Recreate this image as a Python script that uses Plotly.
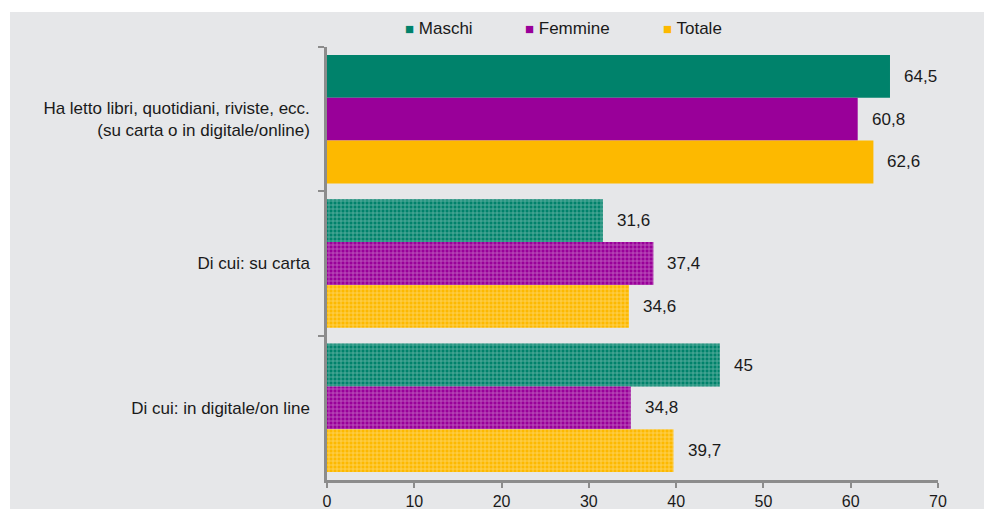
import plotly.graph_objects as go

categories = [
    "Ha letto libri, quotidiani, riviste, ecc.<br>(su carta o in digitale/online)",
    "Di cui: su carta",
    "Di cui: in digitale/on line",
]
series_names = ["Maschi", "Femmine", "Totale"]
maschi = [64.5, 31.6, 45.0]
femmine = [60.8, 37.4, 34.8]
totale = [62.6, 34.6, 39.7]
x_ticks = [0, 10, 20, 30, 40, 50, 60, 70]

colors = ["#00826B", "#990099", "#FDB900"]
values = [maschi, femmine, totale]
# first group solid, the "di cui" groups textured
patterns = ["", "+", "+"]

FONT = "Arial, Liberation Sans, sans-serif"
TXT = "#1a1a1a"
BARGAP = 0.11


def fmt(v):
    s = f"{v:.1f}".replace(".", ",")
    return s[:-2] if s.endswith(",0") else s


fig = go.Figure()
for name, vals, col in zip(series_names, values, colors):
    fig.add_trace(go.Bar(
        y=categories, x=vals, name=name, orientation="h",
        marker=dict(
            color=col, line=dict(width=0),
            pattern=dict(shape=patterns, fillmode="overlay", fgcolor="#ffffff",
                         fgopacity=0.4, size=4, solidity=0.35),
        ),
        hoverinfo="skip", showlegend=False,
    ))

# value labels to the right of each bar
bar_w = (1 - BARGAP) / len(values)
for i, vals in enumerate(values):
    off = (i - (len(values) - 1) / 2) * bar_w
    for j, v in enumerate(vals):
        fig.add_annotation(
            x=v, y=j + off, xref="x", yref="y",
            text=fmt(v), showarrow=False, xanchor="left", xshift=12,
            font=dict(family=FONT, size=17, color=TXT),
        )

# legend row across the top
legend_x = [0.124, 0.321, 0.547]
for name, col, lx in zip(series_names, colors, legend_x):
    fig.add_annotation(
        x=lx, y=(480 - 28) / 433, xref="paper", yref="paper",
        text=f"<span style='color:{col};font-size:15px'>■</span> {name}",
        showarrow=False, xanchor="left", yanchor="middle",
        font=dict(family=FONT, size=17, color=TXT),
    )

# grey panel behind the chart
fig.add_shape(type="rect", xref="paper", yref="paper",
              x0=(10 - 327) / 611, x1=(990 - 327) / 611,
              y0=(480 - 515) / 433, y1=(480 - 12) / 433,
              fillcolor="#E6E7E9", line=dict(width=0), layer="below")

fig.update_layout(
    width=984, height=509,
    margin=dict(l=327, r=46, t=47, b=29),
    paper_bgcolor="#ffffff", plot_bgcolor="rgba(0,0,0,0)",
    barmode="group", bargap=BARGAP, bargroupgap=0,
    font=dict(family=FONT, size=17, color=TXT),
    showlegend=False,
    xaxis=dict(range=[0, 70], tickvals=x_ticks, ticktext=[str(t) for t in x_ticks],
               showgrid=False, zeroline=False, showline=True, linecolor="#8C8C8C",
               linewidth=2.5, ticks="outside", ticklen=5, tickwidth=1.5,
               tickcolor="#8C8C8C", tickfont=dict(size=16), automargin=False,
               fixedrange=True),
    yaxis=dict(autorange="reversed", showgrid=False, showline=True,
               linecolor="#8C8C8C", linewidth=2.5, ticks="outside", ticklen=6,
               tickwidth=1.5, tickcolor="#8C8C8C", tickson="boundaries",
               ticklabelstandoff=11, tickfont=dict(size=17), automargin=False,
               fixedrange=True),
)

fig.write_html("out.html")
